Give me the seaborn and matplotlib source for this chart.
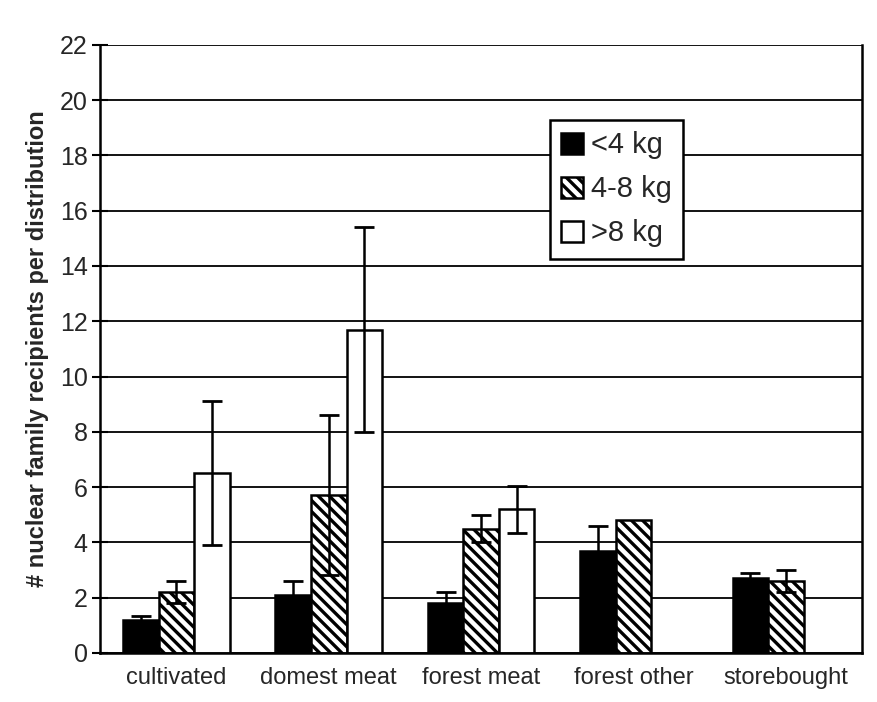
import matplotlib
matplotlib.use("Agg")
import matplotlib.pyplot as plt
import numpy as np
import pandas as pd
import seaborn as sns

categories = ["cultivated", "domest meat", "forest meat", "forest other", "storebought"]
sizes = ["<4 kg", "4-8 kg", ">8 kg"]

# mean recipients per distribution, one list per size class
under_4 = [1.2, 2.1, 1.8, 3.7, 2.7]
from_4_to_8 = [2.2, 5.7, 4.5, 4.8, 2.6]
over_8 = [6.5, 11.7, 5.2, np.nan, np.nan]

# error bar half-lengths
under_4_err = [0.15, 0.5, 0.4, 0.9, 0.2]
from_4_to_8_err = [0.4, 2.9, 0.5, 0.0, 0.4]
over_8_err = [2.6, 3.7, 0.85, np.nan, np.nan]

y_ticks = list(range(0, 23, 2))

df = pd.DataFrame({
    "category": categories * 3,
    "size": [s for s in sizes for _ in categories],
    "value": under_4 + from_4_to_8 + over_8,
    "err": under_4_err + from_4_to_8_err + over_8_err,
})

sns.set_theme(style="white")
plt.rcParams["font.family"] = ["Liberation Sans", "DejaVu Sans"]
plt.rcParams["hatch.linewidth"] = 2.4
plt.rcParams["hatch.color"] = "black"

fig = plt.figure(figsize=(8.78, 7.02), dpi=100)
ax = fig.add_axes([0.114, 0.07, 0.868, 0.866])

sns.barplot(data=df, x="category", y="value", hue="size", order=categories,
            hue_order=sizes, palette=["black", "white", "white"],
            edgecolor="black", linewidth=1.8, width=0.7, errorbar=None,
            saturation=1, ax=ax)

hatches = ["", "\\\\\\", ""]
for hue, cont, hatch in zip(sizes, ax.containers, hatches):
    sub = df[df["size"] == hue].dropna(subset=["value"])
    for bar, (_, row) in zip(cont, sub.iterrows()):
        bar.set_hatch(hatch)
        if row["err"] > 0:
            ax.errorbar(bar.get_x() + bar.get_width() / 2, row["value"],
                        yerr=row["err"], fmt="none", ecolor="black",
                        elinewidth=1.8, capsize=7, capthick=2, zorder=5)

ax.set_ylim(0, 22)
ax.set_yticks(y_ticks)
ax.yaxis.grid(True, color="black", linewidth=1.3)
ax.set_axisbelow(True)
ax.set_xlim(-0.5, len(categories) - 0.5)
ax.set_xticks(np.arange(len(categories)))
ax.set_xticklabels(categories, fontsize=17)
ax.set_xticks(np.arange(len(categories) + 1) - 0.5, minor=True)
ax.tick_params(axis="x", which="major", length=0, pad=10)
ax.tick_params(axis="x", which="minor", direction="out", length=7, width=1.5, color="black")
ax.tick_params(axis="y", labelsize=18, direction="inout", length=12, width=1.5,
               color="black", left=True, pad=3)
for spine in ax.spines.values():
    spine.set_color("black")
    spine.set_linewidth(1.8)
ax.spines["top"].set_visible(False)

ax.set_xlabel("")
ax.set_ylabel("# nuclear family recipients per distribution", fontsize=17,
              fontweight="bold", labelpad=8)

leg = ax.legend(loc="upper left", bbox_to_anchor=(0.59, 0.877), fontsize=21,
                frameon=True, fancybox=False, edgecolor="black", framealpha=1,
                handlelength=0.75, handleheight=0.75, handletextpad=0.25,
                borderpad=0.4, labelspacing=0.55, borderaxespad=0)
leg.get_frame().set_linewidth(1.8)
for h, hatch in zip(leg.legend_handles, hatches):
    h.set_hatch(hatch)
    h.set_edgecolor("black")

fig.savefig("out.png", dpi=100)
